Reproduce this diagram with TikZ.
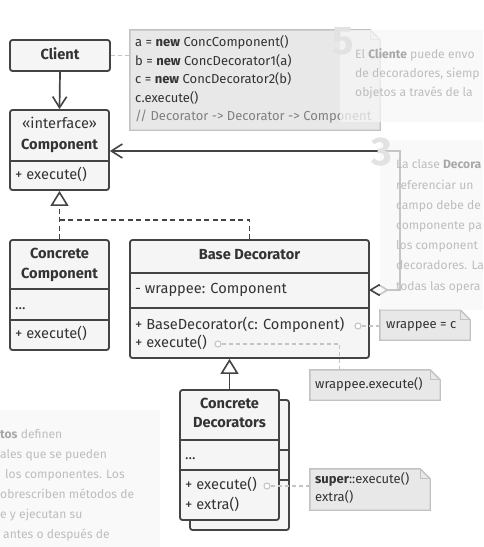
\documentclass[tikz,border=0pt]{standalone}
\usepackage{fontspec}
\setmainfont{Fira Sans}
\usetikzlibrary{arrows.meta}
\definecolor{ln}{HTML}{444444}
\definecolor{boxfill}{HTML}{F5F5F5}
\definecolor{notefill}{HTML}{E8E8E8}
\definecolor{noteline}{HTML}{C2C2C2}
\definecolor{dashc}{HTML}{C4C4C4}
\definecolor{txt}{HTML}{333333}
\definecolor{cmt}{HTML}{808080}
\definecolor{panelfill}{HTML}{F7F7F7}
\definecolor{paneltxt}{HTML}{BDBDBD}
\definecolor{panelbold}{HTML}{A8A8A8}
\definecolor{bignum}{HTML}{E2E2E2}
\newcommand{\mainfs}{\fontsize{14.6}{17}\selectfont}
\newcommand{\codefs}{\fontsize{13}{16}\selectfont}
\newcommand{\panelfs}{\fontsize{12.1}{16}\selectfont}
\tikzset{
  cls/.style={draw=ln, line width=1.8pt, fill=boxfill, rounded corners=2.5pt, inner sep=0pt},
  divl/.style={draw=ln, line width=1.8pt},
  lbl/.style={inner sep=0pt, text=txt, font=\mainfs, text height=10pt, text depth=3pt},
  lbll/.style={lbl, anchor=west},
  code/.style={inner sep=0pt, text=txt, font=\codefs, text height=9.5pt, text depth=3pt, anchor=west},
  notebox/.style={inner sep=0pt},
  noteshape/.style={draw=noteline, fill=notefill, line width=1.4pt},
  notedash/.style={draw=dashc, line width=1.3pt, dash pattern=on 4pt off 3pt},
  circ/.style={circle, draw=dashc, line width=1.1pt, fill=white, minimum size=6pt, inner sep=0pt},
  assoc/.style={draw=ln, line width=1.7pt, -{Straight Barb[length=11pt,width=14pt,line width=1.6pt]}},
  gen/.style={draw=ln, line width=1.7pt, -{Triangle[open,length=15pt,width=18pt,fill=white,line width=1.6pt]}},
  gendash/.style={gen, dash pattern=on 5pt off 3.5pt},
  ptxt/.style={inner sep=0pt, anchor=west, text=paneltxt, font=\panelfs, text height=9.5pt, text depth=3pt},
}
\newcommand{\notefold}[1]{%
  \draw[noteshape] (#1.north west) -- ([xshift=-10pt]#1.north east) -- ([yshift=-10pt]#1.north east) -- (#1.south east) -- (#1.south west) -- cycle;
  \draw[draw=noteline, line width=1.2pt] ([xshift=-10pt]#1.north east) -- ([xshift=-10pt,yshift=-10pt]#1.north east) -- ([yshift=-10pt]#1.north east);}
\newcommand{\pb}[1]{\textcolor{panelbold}{\bfseries #1}}
\begin{document}
\begin{tikzpicture}[x=1pt, y=-1pt]
\useasboundingbox (0,0) rectangle (483,547);
\fill[white] (0,0) rectangle (483,547);

% ---------- Client ----------
\node[cls, minimum width=100pt, minimum height=31pt] (client) at (60,55.5) {};
\node[lbl, font=\mainfs\bfseries] (clientT) at (60,56) {Client};

% ---------- Component ----------
\node[cls, minimum width=99pt, minimum height=80pt] (comp) at (59.5,150) {};
\draw[divl] (comp.west |- 0,161) -- (comp.east |- 0,161);
\node[lbl] (compS) at (59.5,125) {«interface»};
\node[lbl, font=\mainfs\bfseries] (compT) at (59.5,146) {Component};
\node[lbll] (compM) at (15,176) {+ execute()};

% ---------- code note ----------
\node[notebox, minimum width=250pt, minimum height=100pt] (n1) at (255,80) {};
\notefold{n1}
\node[code] (n1a) at (135,43.5) {a = \textbf{new} ConcComponent()};
\node[code] (n1b) at (135,62) {b = \textbf{new} ConcDecorator1(a)};
\node[code] (n1c) at (135,80.5) {c = \textbf{new} ConcDecorator2(b)};
\node[code] (n1d) at (135,99) {c.execute()};
\node[code, text=cmt] (n1e) at (135,117) {// Decorator -> Decorator -> Component};
\draw[notedash] (client.east) -- (client.east -| n1.west);

% client -> component
\draw[assoc] (client.south) -- (comp.north);

% ---------- Concrete Component ----------
\node[cls, minimum width=99pt, minimum height=110pt] (ccomp) at (59.5,295) {};
\draw[divl] (ccomp.west |- 0,289) -- (ccomp.east |- 0,289);
\draw[divl] (ccomp.west |- 0,320) -- (ccomp.east |- 0,320);
\node[lbl, font=\mainfs\bfseries] (ccompT1) at (59.5,255) {Concrete};
\node[lbl, font=\mainfs\bfseries] (ccompT2) at (59.5,275) {Component};
\node[lbll] (ccompF) at (15,306) {...};
\node[lbll] (ccompM) at (15,335) {+ execute()};

% ---------- Base Decorator ----------
\node[cls, minimum width=239pt, minimum height=118pt] (bdec) at (249.5,299) {};
\draw[divl] (bdec.west |- 0,273) -- (bdec.east |- 0,273);
\draw[divl] (bdec.west |- 0,308) -- (bdec.east |- 0,308);
\node[lbl, font=\mainfs\bfseries] (bdecT) at (249.5,256) {Base Decorator};
\node[lbll] (bdecF) at (135,290) {- wrappee: Component};
\node[lbll] (bdecM1) at (135,326) {+ BaseDecorator(c: Component)};
\node[lbll] (bdecM2) at (135,344) {+ execute()};

% realization arrows
\coordinate (jn) at (59.5,220);
\draw[gendash] (ccomp.north) -- (comp.south);
\draw[draw=ln, line width=1.7pt, dash pattern=on 5pt off 3.5pt] (bdec.north) |- (jn);

% aggregation wrappee -> Component
\coordinate (wr) at (369,290);
\draw[draw=ln, line width=1.7pt, {Diamond[open,length=20pt,width=12pt,fill=white,line width=1.6pt]}-{Straight Barb[length=11pt,width=14pt,line width=1.6pt]}]
  (wr) -- (400,290) |- (comp.east |- 0,151);

% ---------- note wrappee = c ----------
\node[notebox, minimum width=90pt, minimum height=30pt] (n2) at (425,325) {};
\notefold{n2}
\node[code] (n2t) at (386,325.5) {wrappee = c};
\node[circ] (c1) at (358,326) {};
\draw[notedash] (c1.east) -- (c1.east -| n2.west);

% ---------- note wrappee.execute() ----------
\node[notebox, minimum width=130pt, minimum height=30pt] (n3) at (375,385) {};
\notefold{n3}
\node[code] (n3t) at (315,385.5) {wrappee.execute()};
\node[circ] (c2) at (218,344) {};
\draw[notedash] (c2.east) -| ([xshift=30pt]n3.north west);

% ---------- Concrete Decorators ----------
\node[cls, minimum width=99pt, minimum height=130pt] (cdecb) at (239.5,465) {};
\draw[divl] (cdecb.west |- 0,450) -- (cdecb.east |- 0,450);
\draw[divl] (cdecb.west |- 0,480) -- (cdecb.east |- 0,480);
\node[cls, minimum width=99pt, minimum height=130pt] (cdec) at (229.5,455) {};
\draw[divl] (cdec.west |- 0,440) -- (cdec.east |- 0,440);
\draw[divl] (cdec.west |- 0,470) -- (cdec.east |- 0,470);
\node[lbl, font=\mainfs\bfseries] (cdecT1) at (229.5,405) {Concrete};
\node[lbl, font=\mainfs\bfseries] (cdecT2) at (229.5,424) {Decorators};
\node[lbll] (cdecF) at (185,456) {...};
\node[lbll] (cdecM1) at (185,486) {+ execute()};
\node[lbll] (cdecM2) at (185,506) {+ extra()};
\draw[gen] (cdec.north) -- (cdec.north |- bdec.south);

% ---------- note super::execute ----------
\node[notebox, minimum width=120pt, minimum height=41pt] (n4) at (370,489.5) {};
\notefold{n4}
\node[code] (n4a) at (315,480) {\textbf{super}::execute()};
\node[code] (n4b) at (315,498) {extra()};
\node[circ] (c3) at (267,486) {};
\draw[notedash] (c3.east) -- (c3.east -| n4.west);

% ---------- faint overlay panels ----------
\begin{scope}
\clip (0,0) rectangle (483,547);
\fill[panelfill, opacity=0.72] (340,30) rectangle (483,122);
\node[inner sep=0pt, anchor=north west, text=bignum, font=\fontsize{40}{40}\selectfont\bfseries] (p5) at (332,27) {5};
\node[ptxt] (p5a) at (355,55.5) {El \pb{Cliente} puede envo};
\node[ptxt] (p5b) at (355,74.5) {de decoradores, siemp};
\node[ptxt] (p5c) at (355,93.5) {objetos a través de la};

\fill[panelfill, opacity=0.72] (380,140) rectangle (483,310);
\node[inner sep=0pt, anchor=north west, text=bignum, font=\fontsize{40}{40}\selectfont\bfseries] (p3) at (371,138) {3};
\node[ptxt] (p3a) at (396,165) {La clase \pb{Decora}};
\node[ptxt] (p3b) at (396,186) {referenciar un};
\node[ptxt] (p3c) at (396,206) {campo debe de};
\node[ptxt] (p3d) at (396,226) {componente pa};
\node[ptxt] (p3e) at (396,246) {los component};
\node[ptxt] (p3f) at (396,266) {decoradores. La};
\node[ptxt] (p3g) at (396,287) {todas las opera};

\fill[panelfill, opacity=0.72] (0,410) rectangle (160,547);
\node[ptxt] (p4a) at (0,435) {\pb{tos} definen};
\node[ptxt] (p4b) at (0,455) {ales que se pueden};
\node[ptxt] (p4c) at (5,475) {los componentes. Los};
\node[ptxt] (p4d) at (0,495) {obrescriben métodos de};
\node[ptxt] (p4e) at (0,515) {e y ejecutan su};
\node[ptxt] (p4f) at (3,535) {antes o después de};
\end{scope}
\end{tikzpicture}
\end{document}
